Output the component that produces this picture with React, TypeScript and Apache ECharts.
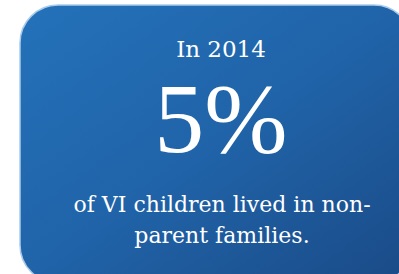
import React, { useEffect, useRef } from "react";
import * as echarts from "echarts";

const yearLabel = ["In 2014"];
const shareValues = [5];
const valueSuffix = ["%"];
const captionLines = ["of VI children lived in non-", "parent families."];

export default function App() {
  const ref = useRef<HTMLDivElement>(null);
  useEffect(() => {
    document.body.style.margin = "0";
    const chart = echarts.init(ref.current!, null, { renderer: "svg" });
    const font = "'DejaVu Serif', serif";
    const bigFont = "'Liberation Serif', 'Times New Roman', serif";
    const cx = 222;
    chart.setOption({
      animation: false,
      backgroundColor: "#ffffff",
      graphic: [
        {
          type: "rect",
          shape: { x: 20, y: 5, width: 392, height: 278, r: 38 },
          style: {
            fill: new echarts.graphic.LinearGradient(0, 0, 1, 1, [
              { offset: 0, color: "#2472ba" },
              { offset: 0.5, color: "#2063a8" },
              { offset: 1, color: "#1a4a86" },
            ]),
            stroke: "#a9cbeb",
            lineWidth: 1.5,
          },
        },
        {
          type: "text",
          x: cx - 1,
          y: 49,
          style: {
            text: yearLabel[0],
            fill: "#ffffff",
            font: `23px ${font}`,
            textAlign: "center",
            textVerticalAlign: "middle",
          },
        },
        {
          type: "text",
          x: cx - 1,
          y: 118,
          style: {
            text: `${shareValues[0]}${valueSuffix[0]}`,
            fill: "#ffffff",
            font: `100px ${bigFont}`,
            textAlign: "center",
            textVerticalAlign: "middle",
          },
        },
        ...captionLines.map((line, i) => ({
          type: "text",
          x: cx,
          y: 204 + i * 31,
          style: {
            text: line,
            fill: "#ffffff",
            font: `22px ${font}`,
            textAlign: "center",
            textVerticalAlign: "middle",
          },
        })),
      ],
    });
    return () => chart.dispose();
  }, []);
  return <div ref={ref} style={{ width: 399, height: 274 }} />;
}
